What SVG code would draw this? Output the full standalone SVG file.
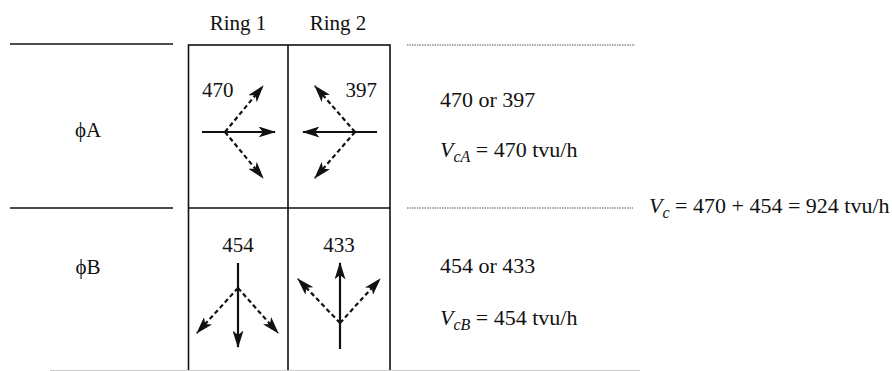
<svg xmlns="http://www.w3.org/2000/svg" width="892" height="371" viewBox="0 0 892 371">
<style>
text{font-family:"Liberation Serif","Times New Roman",serif;font-size:21px;fill:#111}
.big{font-size:22px}
.it{font-style:italic}
.rule{stroke:#111;stroke-width:1.6;fill:none}
.dot{stroke:#555;stroke-width:1;stroke-dasharray:1.5 1;fill:none}
.solid{stroke:#111;stroke-width:2.2;fill:none;marker-end:url(#ah)}
.dash{stroke:#111;stroke-width:2.2;stroke-dasharray:4.5 3;fill:none;marker-end:url(#ah)}
</style>
<defs>
<marker id="ah" viewBox="0 0 16 10" refX="15" refY="5" markerWidth="8" markerHeight="5" markerUnits="strokeWidth" orient="auto">
<path d="M0,0 L16,5 L0,10 L4,5 Z" fill="#111"/>
</marker>
</defs>
<g id="frame">
<line class="rule" x1="10" y1="44" x2="173" y2="44"/>
<line class="rule" x1="10" y1="208" x2="173" y2="208"/>
<rect class="rule" x="188.5" y="45" width="201.5" height="330"/>
<line class="rule" x1="288" y1="45" x2="288" y2="371"/>
<line class="rule" x1="188.5" y1="208" x2="390" y2="208"/>
<line class="dot" x1="407" y1="45" x2="635" y2="45"/>
<line class="dot" x1="407" y1="208" x2="633" y2="208"/>
<line stroke="#ccc" stroke-width="1.2" x1="50" y1="370.5" x2="640" y2="370.5"/>
</g>
<g id="header">
<text x="238" y="30" text-anchor="middle">Ring 1</text>
<text x="338" y="30" text-anchor="middle">Ring 2</text>
</g>
<g id="phaseA">
<text x="88" y="137" text-anchor="middle">ϕA</text>
<text x="202" y="97">470</text>
<text x="377" y="97" text-anchor="end">397</text>
<text class="big" x="440" y="107">470 or 397</text>
<text class="big" x="440" y="157"><tspan class="it">V</tspan><tspan class="it" font-size="16" dy="5">cA</tspan><tspan dy="-5"> = 470 tvu/h</tspan></text>
</g>
<g id="phaseB">
<text x="88" y="274" text-anchor="middle">ϕB</text>
<text x="238" y="252" text-anchor="middle">454</text>
<text x="339" y="252" text-anchor="middle">433</text>
<text class="big" x="440" y="273">454 or 433</text>
<text class="big" x="440" y="325"><tspan class="it">V</tspan><tspan class="it" font-size="16" dy="5">cB</tspan><tspan dy="-5"> = 454 tvu/h</tspan></text>
</g>
<g id="total">
<text class="big" x="649" y="213"><tspan class="it">V</tspan><tspan class="it" font-size="16" dy="5">c</tspan><tspan dy="-5"> = 470 + 454 = 924 tvu/h</tspan></text>
</g>
<g id="connectors">
<line class="solid" x1="202" y1="132" x2="275" y2="132"/>
<line class="dash" x1="225" y1="132" x2="263" y2="86"/>
<line class="dash" x1="225" y1="132" x2="263" y2="178"/>
<line class="solid" x1="377" y1="132" x2="303" y2="132"/>
<line class="dash" x1="355" y1="132" x2="315" y2="86"/>
<line class="dash" x1="355" y1="132" x2="315" y2="178"/>
<line class="solid" x1="238" y1="263" x2="238" y2="347"/>
<line class="dash" x1="238" y1="288" x2="197" y2="333"/>
<line class="dash" x1="238" y1="288" x2="278" y2="333"/>
<line class="solid" x1="340" y1="349" x2="340" y2="263"/>
<line class="dash" x1="340" y1="323" x2="298" y2="279"/>
<line class="dash" x1="340" y1="323" x2="380" y2="279"/>
</g>
</svg>
